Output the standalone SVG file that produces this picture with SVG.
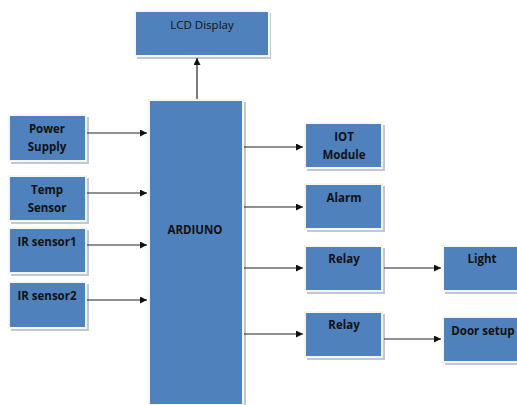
<svg xmlns="http://www.w3.org/2000/svg" width="517" height="405" viewBox="0 0 517 405">
<style>
.sh{fill:#c3c7d0}
.bx{fill:#4f81bd;stroke:#f4f6fa;stroke-width:2}
.t{font-family:"Open Sans","Liberation Sans",sans-serif;font-size:11.5px;font-weight:bold;fill:#111;text-anchor:middle}
.tn{font-weight:normal}
.c{stroke:#222;stroke-width:1.2;fill:none;marker-end:url(#ah)}
</style>
<defs>
<marker id="ah" viewBox="0 0 10 10" refX="10" refY="5" markerWidth="7" markerHeight="7" markerUnits="userSpaceOnUse" orient="auto">
<path d="M0,0 L10,5 L0,10 z" fill="#111"/>
</marker>
</defs>
<rect width="517" height="405" fill="#fff"/>
<g id="lcd"><rect class="sh" x="137" y="13" width="134" height="46"/><rect class="bx" x="135" y="11" width="134" height="45"/><text class="t tn" x="202" y="29">LCD Display</text></g>
<g id="arduino"><rect class="sh" x="151" y="102" width="95" height="303"/><rect class="bx" x="149" y="100" width="94" height="305"/><text class="t" x="195" y="234">ARDIUNO</text></g>
<g id="power"><rect class="sh" x="11" y="117" width="78" height="47"/><rect class="bx" x="9" y="115" width="77" height="46"/><text class="t" x="47" y="133">Power</text><text class="t" x="47" y="151">Supply</text></g>
<g id="temp"><rect class="sh" x="11" y="178" width="78" height="46"/><rect class="bx" x="9" y="176" width="77" height="45"/><text class="t" x="47" y="194">Temp</text><text class="t" x="47" y="212">Sensor</text></g>
<g id="ir1"><rect class="sh" x="11" y="230" width="78" height="46"/><rect class="bx" x="9" y="228" width="77" height="45"/><text class="t" x="47" y="246">IR sensor1</text></g>
<g id="ir2"><rect class="sh" x="11" y="284" width="78" height="47"/><rect class="bx" x="9" y="282" width="77" height="46"/><text class="t" x="47" y="300">IR sensor2</text></g>
<g id="iot"><rect class="sh" x="307" y="125" width="78" height="46"/><rect class="bx" x="305" y="123" width="77" height="45"/><text class="t" x="344" y="141">IOT</text><text class="t" x="344" y="159">Module</text></g>
<g id="alarm"><rect class="sh" x="307" y="186" width="78" height="46"/><rect class="bx" x="305" y="184" width="77" height="45"/><text class="t" x="344" y="202">Alarm</text></g>
<g id="relay1"><rect class="sh" x="307" y="248" width="78" height="46"/><rect class="bx" x="305" y="246" width="77" height="45"/><text class="t" x="344" y="263">Relay</text></g>
<g id="relay2"><rect class="sh" x="307" y="314" width="78" height="46"/><rect class="bx" x="305" y="312" width="77" height="45"/><text class="t" x="344" y="329">Relay</text></g>
<g id="light"><rect class="sh" x="445" y="248" width="80" height="46"/><rect class="bx" x="443" y="246" width="80" height="45"/><text class="t" x="482" y="263">Light</text></g>
<g id="door"><rect class="sh" x="445" y="319" width="80" height="46"/><rect class="bx" x="443" y="317" width="80" height="45"/><text class="t" x="483" y="335">Door setup</text></g>
<g id="connectors">
<line class="c" x1="197" y1="99" x2="197" y2="58"/>
<line class="c" x1="87" y1="133" x2="147" y2="133"/>
<line class="c" x1="87" y1="193" x2="147" y2="193"/>
<line class="c" x1="87" y1="245" x2="147" y2="245"/>
<line class="c" x1="87" y1="300" x2="147" y2="300"/>
<line class="c" x1="244" y1="147" x2="303" y2="147"/>
<line class="c" x1="244" y1="207" x2="303" y2="207"/>
<line class="c" x1="244" y1="268" x2="303" y2="268"/>
<line class="c" x1="244" y1="334" x2="303" y2="334"/>
<line class="c" x1="384" y1="268" x2="441" y2="268"/>
<line class="c" x1="384" y1="339" x2="441" y2="339"/>
</g>
</svg>
